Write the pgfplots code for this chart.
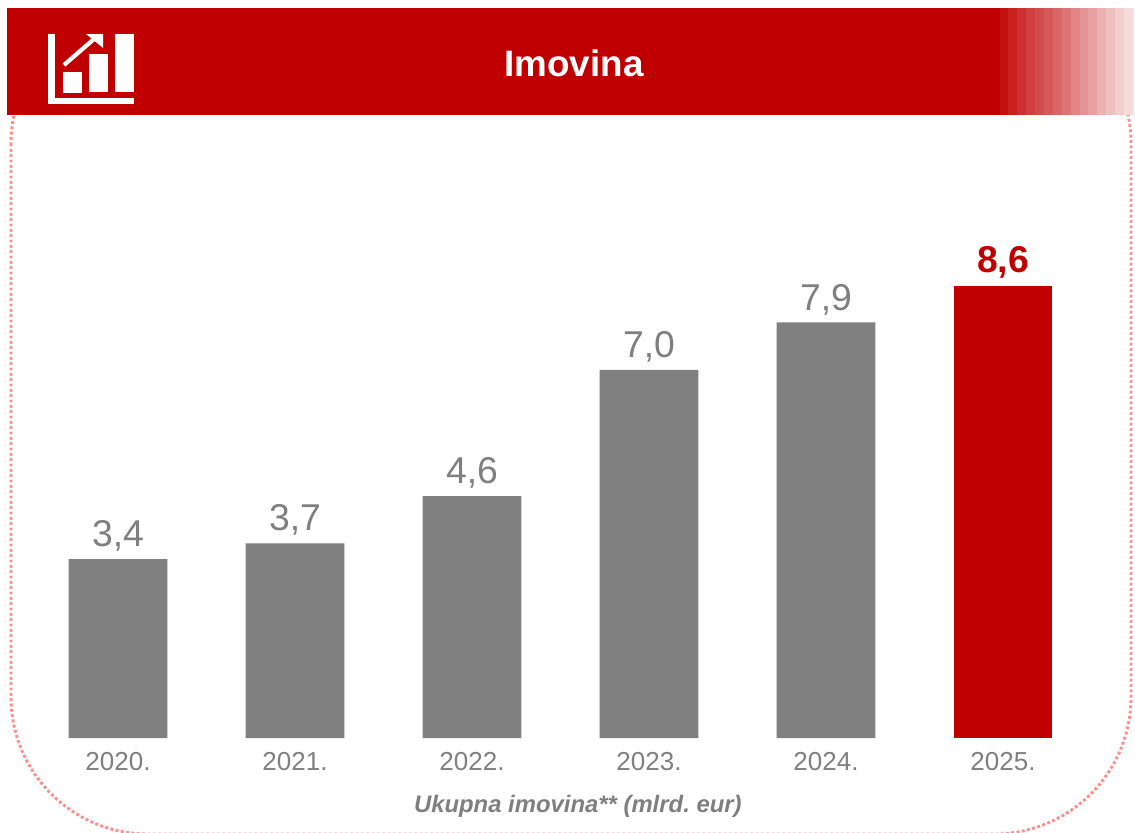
\documentclass[border=0pt]{standalone}
\usepackage{fontspec}
\setmainfont{Liberation Sans}
\usepackage{pgfplots}
\pgfplotsset{compat=1.18}
\definecolor{Banner}{HTML}{C00000}
\definecolor{BarGray}{HTML}{808080}
\definecolor{TextGray}{HTML}{7F7F7F}
\definecolor{Dots}{HTML}{FF8F8F}

\begin{document}
\frenchspacing
\begin{tikzpicture}
% page is 1135x832 px, 1 px = 0.75pt, y counted from the top
\begin{scope}[x=0.75pt,y=-0.75pt]
\useasboundingbox (0,0) rectangle (1135,832);
\begin{scope}
\clip (0,112) rectangle (1135,832);
\draw[Dots,line width=2.2pt,dash pattern=on 2.2pt off 1.8pt,rounded corners=102.75pt]
  (11,6.5) rectangle (1131,834);
\end{scope}
\fill[Banner] (7,8) rectangle (1001,115);
\foreach \xa/\xb/\p in {1000/1009/94,1008/1018/88,1017/1027/81,1026/1036/75,1035/1045/70,
    1044/1054/65,1053/1063/60,1062/1072/54,1071/1081/48,1080/1089/42,1088/1098/37,
    1097/1107/31,1106/1116/25,1115/1125/20,1124/1134/14,1133/1135/7}
  \fill[Banner!\p!white] (\xa,8) rectangle (\xb,115);
% icon
\fill[white] (48,34) rectangle (55,104);
\fill[white] (48,98) rectangle (134,104);
\fill[white] (63,72) rectangle (82,93);
\fill[white] (89,54) rectangle (108,92);
\fill[white] (115,34) rectangle (134,92);
\draw[white,line width=3.2pt] (64,65) -- (94,39);
\fill[white] (86,34) -- (103,34) -- (103,48) -- cycle;
\node[white,font=\fontsize{27.6}{30}\selectfont\bfseries] at (574,63) {Imovina};
\end{scope}

\begin{axis}[
    at={(22.125pt,-553.5pt)}, anchor=south west,
    scale only axis,
    width=796.5pt, height=394.5pt,
    xmin=-0.5, xmax=5.5,
    ymin=0, ymax=10,
    clip=false,
    ybar, bar width=74.1pt, bar shift=0pt,
    axis line style={draw=none},
    tick style={draw=none},
    ytick=\empty,
    xtick={0,1,2,3,4,5},
    xticklabels={2020.,2021.,2022.,2023.,2024.,2025.},
    x tick label style={font=\fontsize{19.5}{22}\selectfont, text=TextGray, yshift=-3.2pt},
    xlabel={\textbf{\textit{Ukupna imovina** (mlrd. eur)}}},
    xlabel style={font=\fontsize{17.9}{20}\selectfont, text=TextGray, xshift=13pt, yshift=-11pt},
    nodes near coords,
    /pgf/number format/.cd, use comma, fixed, fixed zerofill, precision=1, assume math mode=true,
]
\addplot[fill=BarGray, draw=none,
    every node near coord/.append style={font=\fontsize{28}{30}\selectfont, text=TextGray, yshift=2.2pt}]
  coordinates {(0,3.4) (1,3.7) (2,4.6) (3,7.0) (4,7.9)};
\addplot[fill=Banner, draw=none,
    every node near coord/.append style={font=\fontsize{28}{30}\selectfont\bfseries, text=Banner, yshift=2.2pt}]
  coordinates {(5,8.6)};
\end{axis}
\end{tikzpicture}
\end{document}
